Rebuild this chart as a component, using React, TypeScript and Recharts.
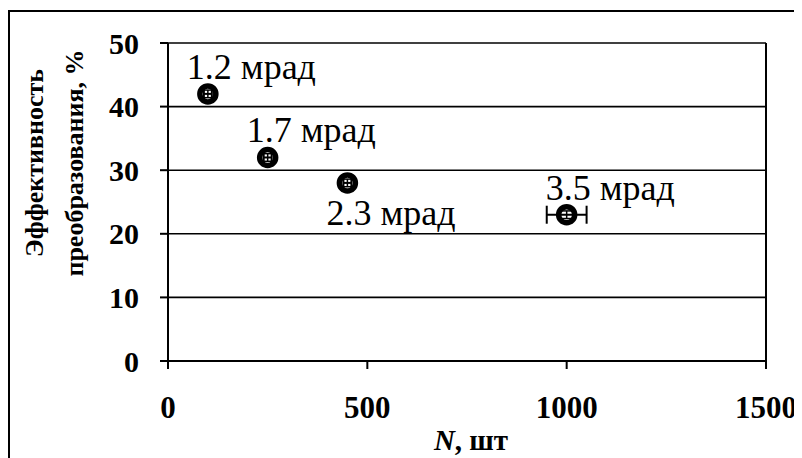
import { ScatterChart, Scatter, XAxis, YAxis, CartesianGrid, ErrorBar, ReferenceLine } from 'recharts'

// number of elements N, conversion efficiency %, beam divergence
const nValues = [100, 250, 450, 1000]
const effValues = [42, 32, 28, 23]
const nErrors = [10, 10, 10, 50]
const effErrors = [0.6, 0.6, 0.6, 0.6]
const divergenceLabels = ['1.2 мрад', '1.7 мрад', '2.3 мрад', '3.5 мрад']
const xTicks = [0, 500, 1000, 1500]
const yTicks = [0, 10, 20, 30, 40, 50]

const SERIF = "Liberation Serif, serif"
const labelBelow = [false, false, true, false]

const data = nValues.map((n, i) => ({
  n,
  eff: effValues[i],
  nErr: nErrors[i],
  effErr: effErrors[i],
  label: divergenceLabels[i],
  idx: i,
}))

function Marker(props: any) {
  const { cx, cy, payload } = props
  if (cx == null || cy == null) return null
  const below = labelBelow[payload.idx]
  return (
    <g>
      <circle cx={cx} cy={cy} r={8} fill="none" stroke="#000" strokeWidth={5.5} />
      <text
        x={cx - 21}
        y={below ? cy + 42 : cy - 15}
        fontFamily={SERIF}
        fontSize={36}
        fill="#000"
      >
        {payload.label}
      </text>
    </g>
  )
}

function YTitle() {
  return (
    <g fontFamily={SERIF} fontWeight="bold" fontSize={26} fill="#000">
      <text x={35} y={155} textAnchor="middle" transform="rotate(-90, 35, 155)">
        Эффективность
      </text>
      <text x={75} y={155} textAnchor="middle" transform="rotate(-90, 75, 155)">
        преобразования, %
      </text>
    </g>
  )
}

function XTitle() {
  return (
    <text x={463} y={442} textAnchor="middle" fontFamily={SERIF} fontWeight="bold" fontSize={29} fill="#000">
      <tspan fontStyle="italic">N</tspan>, шт
    </text>
  )
}

export default function App() {
  return (
    <div style={{ position: 'relative', width: 794, height: 450, overflow: 'hidden' }}>
      {/* outer frame, right and bottom edges fall outside the picture */}
      <div
        style={{
          position: 'absolute',
          left: 0,
          top: 2,
          width: 900,
          height: 600,
          border: '2px solid #000',
          boxSizing: 'border-box',
        }}
      />
      <div style={{ position: 'absolute', left: 0, top: 0 }}>
        <ScatterChart width={794} height={450} margin={{ top: 35, right: 36, bottom: 0, left: 0 }}>
          <CartesianGrid vertical={false} stroke="#000" strokeWidth={1.6} strokeOpacity={1} />
          <ReferenceLine x={1500} stroke="#000" strokeWidth={2} />
          <XAxis
            type="number"
            dataKey="n"
            domain={[0, 1500]}
            ticks={xTicks}
            height={97}
            axisLine={{ stroke: '#000', strokeWidth: 2 }}
            tickLine={{ stroke: '#000', strokeWidth: 2 }}
            tickSize={8}
            tickMargin={27}
            tick={{ fontFamily: SERIF, fontWeight: 'bold', fontSize: 31, fill: '#000' }}
            label={<XTitle />}
          />
          <YAxis
            type="number"
            dataKey="eff"
            domain={[0, 50]}
            ticks={yTicks}
            width={160}
            axisLine={{ stroke: '#000', strokeWidth: 2 }}
            tickLine={{ stroke: '#000', strokeWidth: 2 }}
            tickSize={8}
            tickMargin={21}
            tick={{ fontFamily: SERIF, fontWeight: 'bold', fontSize: 30, fill: '#000' }}
            label={<YTitle />}
          />
          <Scatter data={data} shape={<Marker />} isAnimationActive={false}>
            <ErrorBar dataKey="nErr" direction="x" width={9} stroke="#000" strokeWidth={2} />
            <ErrorBar dataKey="effErr" direction="y" width={8} stroke="#000" strokeWidth={1.5} />
          </Scatter>
        </ScatterChart>
      </div>
    </div>
  )
}
